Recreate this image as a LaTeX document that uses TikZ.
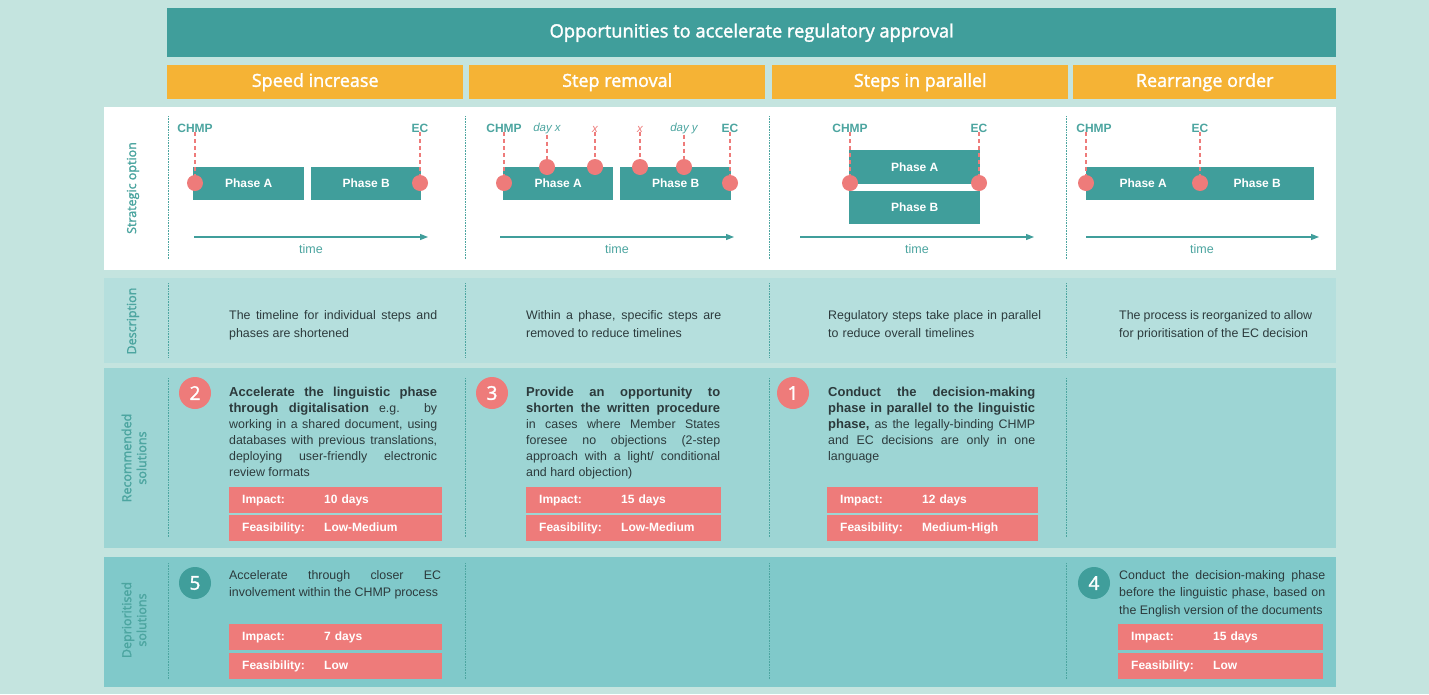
\documentclass[tikz,border=0pt]{standalone}
\usepackage{fontspec}
\setmainfont{Liberation Sans}
\newfontfamily\headfont{Open Sans}[FakeBold=1.8]
\usetikzlibrary{arrows.meta,positioning}
\definecolor{bgteal}{HTML}{C4E4DF}
\definecolor{darkteal}{HTML}{409E9B}
\definecolor{txteal}{HTML}{4CA5A0}
\definecolor{gold}{HTML}{F5B335}
\definecolor{descrow}{HTML}{B5DFDD}
\definecolor{recrow}{HTML}{9DD5D4}
\definecolor{deprow}{HTML}{80C9CA}
\definecolor{coral}{HTML}{EE7B7A}
\definecolor{bodytxt}{HTML}{2C3A3C}
\newcommand{\kpirow}[2]{\makebox[82pt][l]{#1}#2}
\hyphenpenalty=10000
\exhyphenpenalty=10000

\begin{document}
\begin{tikzpicture}[x=1pt,y=-1pt,every node/.style={inner sep=0pt},
        titlebar/.style={fill=darkteal,text=white,anchor=north west,minimum width=1169,
                    minimum height=49,font=\headfont\fontsize{18.3}{20}\selectfont},
        head/.style={fill=gold,text=white,anchor=north west,minimum width=296,
                    minimum height=34,font=\headfont\fontsize{18}{20}\selectfont},
        rowlabel/.style={rotate=90,text=txteal,align=center,
                    font=\headfont\fontsize{12.5}{15}\selectfont},
        phase/.style={fill=darkteal,text=white,anchor=north west,minimum height=33,
                    font=\bfseries\fontsize{12}{14}\selectfont},
        milestone/.style={text=txteal,font=\bfseries\fontsize{12}{14}\selectfont},
        dayx/.style={text=txteal,font=\itshape\fontsize{11.5}{14}\selectfont},
        cross/.style={text=coral,font=\itshape\fontsize{11.5}{14}\selectfont},
        dot/.style={circle,fill=coral,minimum size=16},
        dashline/.style={coral,line width=1.1pt,dash pattern=on 4pt off 3pt},
        timeline/.style={darkteal,line width=1.2pt,-{Triangle[length=8,width=6]}},
        timelbl/.style={text=txteal,font=\fontsize{12.5}{14}\selectfont},
        body/.style={anchor=north west,align=justify,text=bodytxt,
                    font=\fontsize{12.4}{16}\selectfont},
        num/.style={circle,fill=coral,text=white,minimum size=32,
                    font=\headfont\fontsize{19}{20}\selectfont},
        kpi/.style={fill=coral,text=white,anchor=north west,inner xsep=13,align=left,
                    minimum height=26,font=\bfseries\fontsize{12}{14}\selectfont}]
  \useasboundingbox[fill=bgteal] (0,0) rectangle (1429,694);

  % header
  \node[titlebar] (title) at (167,8) {Opportunities to accelerate regulatory approval};
  \node[head] (hspeed) at (167,65) {Speed increase};
  \node[head] (hremove) at (469,65) {Step removal};
  \node[head] (hpar) at (772,65) {Steps in parallel};
  \node[head,minimum width=263] (horder) at (1073,65) {Rearrange order};

  % row backgrounds
  \fill[white] (104,107) rectangle (1336,270);
  \fill[descrow] (104,278) rectangle (1336,363);
  \fill[recrow] (104,368) rectangle (1336,548);
  \fill[deprow] (104,557) rectangle (1336,687);
  \foreach \x in {168,465,769,1066}{
    \foreach \ya/\yb in {116/259,283/357,378/537,563/679}
      \draw[txteal,line width=0.8pt,dash pattern=on 0.8pt off 0.8pt] (\x,\ya) -- (\x,\yb);
  }

  \node[rowlabel] (lstrat) at (133,188) {Strategic option};
  \node[rowlabel] (ldesc) at (133,321) {Description};
  \node[rowlabel] (lrec) at (134,458) {Recommended\\solutions};
  \node[rowlabel] (ldep) at (134,620) {Deprioritised\\solutions};

  % speed increase
  \node[phase,minimum width=111] (sa) at (193,167) {Phase A};
  \node[phase,minimum width=110] (sb) at (311,167) {Phase B};
  \node[milestone] (schmp) at (195,128) {CHMP};
  \node[milestone] (sec) at (420,128) {EC};
  \node[dot] (sd1) at (195,183) {};
  \node[dot] (sd2) at (420,183) {};
  \coordinate (st1) at (194,237);
  \coordinate (st2) at (428,237);
  \draw[timeline] (st1) -- (st2);
  \node[timelbl] (stime) at (311,249) {time};

  % step removal
  \node[phase,minimum width=110] (ra) at (503,167) {Phase A};
  \node[phase,minimum width=111] (rb) at (620,167) {Phase B};
  \node[milestone] (rchmp) at (504,128) {CHMP};
  \node[dayx] (rdx) at (547,129) {day x};
  \node[cross] (rx1) at (595,129) {x};
  \node[cross] (rx2) at (640,129) {x};
  \node[dayx] (rdy) at (684,129) {day y};
  \node[milestone] (rec) at (730,128) {EC};
  \node[dot] (rd1) at (504,183) {};
  \node[dot] (rd2) at (547,167) {};
  \node[dot] (rd3) at (595,167) {};
  \node[dot] (rd4) at (640,167) {};
  \node[dot] (rd5) at (684,167) {};
  \node[dot] (rd6) at (730,183) {};
  \coordinate (rt1) at (500,237);
  \coordinate (rt2) at (734,237);
  \draw[timeline] (rt1) -- (rt2);
  \node[timelbl] (rtime) at (617,249) {time};

  % steps in parallel
  \node[phase,minimum width=131,minimum height=34] (pa) at (849,150) {Phase A};
  \node[phase,minimum width=131,minimum height=33] (pb) at (849,191) {Phase B};
  \node[milestone] (pchmp) at (850,128) {CHMP};
  \node[milestone] (pec) at (979,128) {EC};
  \node[dot] (pd1) at (850,183) {};
  \node[dot] (pd2) at (979,183) {};
  \coordinate (pt1) at (800,237);
  \coordinate (pt2) at (1034,237);
  \draw[timeline] (pt1) -- (pt2);
  \node[timelbl] (ptime) at (917,249) {time};

  % rearrange order
  \node[phase,minimum width=114] (oa) at (1086,167) {Phase A};
  \node[phase,minimum width=114] (ob) at (1200,167) {Phase B};
  \node[milestone] (ochmp) at (1094,128) {CHMP};
  \node[milestone] (oec) at (1200,128) {EC};
  \node[dot] (od1) at (1086,183) {};
  \node[dot] (od2) at (1200,183) {};
  \coordinate (ot1) at (1086,237);
  \coordinate (ot2) at (1319,237);
  \draw[timeline] (ot1) -- (ot2);
  \node[timelbl] (otime) at (1202,249) {time};

  \foreach \a/\b in {schmp/sd1,sec/sd2,rchmp/rd1,rdx/rd2,rx1/rd3,rx2/rd4,rdy/rd5,rec/rd6,
                     pchmp/pd1,pec/pd2,ochmp/od1,oec/od2}{
    \draw[dashline] (\b |- \a.south) -- (\b);
  }

  % description
  \node[body,text width=208,font=\fontsize{12.4}{18}\selectfont] (dspeed) at (229,310)
    {The timeline for individual steps and\linebreak phases are shortened};
  \node[body,text width=195,font=\fontsize{12.4}{18}\selectfont] (dremove) at (526,310)
    {Within a phase, specific steps are\linebreak removed to reduce timelines};
  \node[body,text width=230,align=left,font=\fontsize{12.4}{18}\selectfont] (dpar) at (828,310)
    {Regulatory steps take place in parallel\\to reduce overall timelines};
  \node[body,text width=193,font=\fontsize{12.4}{18}\selectfont] (dorder) at (1119,310)
    {The process is reorganized to allow\linebreak for prioritisation of the EC decision};

  % recommended solutions
  \node[num] (n2) at (195,393) {2};
  \node[body,text width=208] (rspeed) at (229,387)
    {\textbf{\fontsize{13}{16}\selectfont Accelerate the linguistic phase\linebreak through digitalisation}
     e.g. by\linebreak working in a shared document, using\linebreak databases with previous translations,\linebreak
     deploying user-friendly electronic\linebreak review formats};
  \node[kpi,text width=187] (ki2) at (229,487) {\kpirow{Impact:}{10 days}};
  \node[kpi,text width=187] (kf2) at (229,515) {\kpirow{Feasibility:}{Low-Medium}};

  \node[num] (n3) at (492,393) {3};
  \node[body,text width=194] (rremove) at (526,387)
    {\textbf{\fontsize{13}{16}\selectfont Provide an opportunity to\linebreak shorten the written procedure}\linebreak
     in cases where Member States\linebreak foresee no objections (2-step\linebreak
     approach with a light/ conditional\linebreak and hard objection)};
  \node[kpi,text width=169] (ki3) at (526,487) {\kpirow{Impact:}{15 days}};
  \node[kpi,text width=169] (kf3) at (526,515) {\kpirow{Feasibility:}{Low-Medium}};

  \node[num] (n1) at (793,393) {1};
  \node[body,text width=207] (rpar) at (828,387)
    {\textbf{\fontsize{13}{16}\selectfont Conduct the decision-making\linebreak phase in parallel to the linguistic\linebreak
     phase,} as the legally-binding CHMP\linebreak and EC decisions are only in one\linebreak language};
  \node[kpi,text width=185] (ki1) at (827,487) {\kpirow{Impact:}{12 days}};
  \node[kpi,text width=185] (kf1) at (827,515) {\kpirow{Feasibility:}{Medium-High}};

  % deprioritised solutions
  \node[num,fill=darkteal] (n5) at (195,583) {5};
  \node[body,text width=212,font=\fontsize{12.4}{17}\selectfont] (pspeed) at (229,570)
    {Accelerate through closer EC\linebreak involvement within the CHMP process};
  \node[kpi,text width=187] (ki5) at (229,624) {\kpirow{Impact:}{7 days}};
  \node[kpi,text width=187] (kf5) at (229,653) {\kpirow{Feasibility:}{Low}};

  \node[num,fill=darkteal] (n4) at (1094,583) {4};
  \node[body,text width=206,font=\fontsize{12.4}{17.5}\selectfont] (porder) at (1119,570)
    {Conduct the decision-making phase\linebreak before the linguistic phase, based on\linebreak
     the English version of the documents};
  \node[kpi,text width=179] (ki4) at (1118,624) {\kpirow{Impact:}{15 days}};
  \node[kpi,text width=179] (kf4) at (1118,653) {\kpirow{Feasibility:}{Low}};
\end{tikzpicture}
\end{document}
